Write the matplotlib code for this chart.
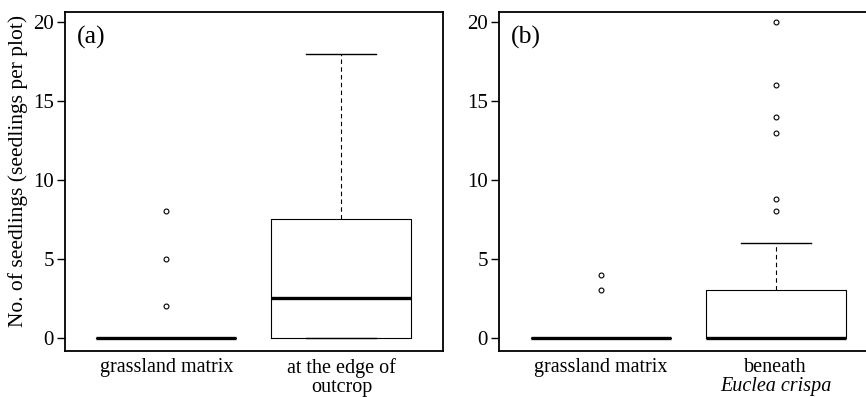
import matplotlib
matplotlib.use("Agg")
import matplotlib.pyplot as plt
import matplotlib.transforms as mtransforms

plt.rcParams['font.family'] = ['Liberation Serif', 'DejaVu Serif']

# Panel (a)
a_labels = ["grassland matrix", "at the edge of\noutcrop"]
a_q1 = [0, 0]
a_med = [0, 2.5]
a_q3 = [0, 7.5]
a_whislo = [0, 0]
a_whishi = [0, 18]
a_fliers = [[2, 5, 8], []]

# Panel (b)
b_labels = ["grassland matrix", "beneath"]
b_italic = ["", "Euclea crispa"]
b_q1 = [0, 0]
b_med = [0, 0]
b_q3 = [0, 3]
b_whislo = [0, 0]
b_whishi = [0, 6]
b_fliers = [[3, 4], [8, 8.8, 13, 14, 16, 20]]

yticks = [0, 5, 10, 15, 20]
ylabel = "No. of seedlings (seedlings per plot)"

W, H = 866, 397
fig = plt.figure(figsize=(W / 100, H / 100), dpi=100)

def make_stats(q1, med, q3, lo, hi, fl):
    return [dict(q1=a, med=b, q3=c, whislo=d, whishi=e, fliers=f)
            for a, b, c, d, e, f in zip(q1, med, q3, lo, hi, fl)]

def draw(ax, stats, labels, italics, tag):
    ax.bxp(stats, positions=[1, 2], widths=0.8, showfliers=True,
           boxprops=dict(color='black', linewidth=0.8),
           medianprops=dict(color='black', linewidth=2.4, solid_capstyle='butt'),
           whiskerprops=dict(color='black', linewidth=0.8, linestyle=(0, (4, 3))),
           capprops=dict(color='black', linewidth=1.0),
           capwidths=0.4,
           flierprops=dict(marker='o', markersize=3.5, markerfacecolor='white',
                           markeredgecolor='black', markeredgewidth=0.8))
    ax.set_xlim(0.42, 2.58)
    ax.set_ylim(-0.85, 20.65)
    ax.set_yticks(yticks)
    ax.set_yticklabels([str(t) for t in yticks])
    ax.tick_params(axis='y', direction='out', length=6, width=1.0, pad=2,
                   labelsize=15)
    ax.set_xticks([])
    for s in ax.spines.values():
        s.set_linewidth(1.3)
    trans = mtransforms.blended_transform_factory(ax.transData, ax.transAxes)
    for i, lab in enumerate(labels):
        ax.text(i + 1, -0.02, lab, transform=trans, ha='center', va='top',
                fontsize=14.5, linespacing=1.0)
    for i, lab in enumerate(italics):
        if lab:
            ax.text(i + 1, -0.078, lab, transform=trans, ha='center', va='top',
                    fontsize=14.5, style='italic')
    ax.text(0.032, 0.96, tag, transform=ax.transAxes, ha='left', va='top',
            fontsize=18.5)

ax1 = fig.add_axes([65 / W, 1 - 351 / H, 378 / W, 339 / H])
draw(ax1, make_stats(a_q1, a_med, a_q3, a_whislo, a_whishi, a_fliers),
     a_labels, ["", ""], "(a)")
ax1.set_ylabel(ylabel, fontsize=15.5)
ax1.yaxis.set_label_coords(-0.098, 0.53)

ax2 = fig.add_axes([499 / W, 1 - 351 / H, 378 / W, 339 / H])
draw(ax2, make_stats(b_q1, b_med, b_q3, b_whislo, b_whishi, b_fliers),
     b_labels, b_italic, "(b)")

fig.savefig("out.png", dpi=100)
